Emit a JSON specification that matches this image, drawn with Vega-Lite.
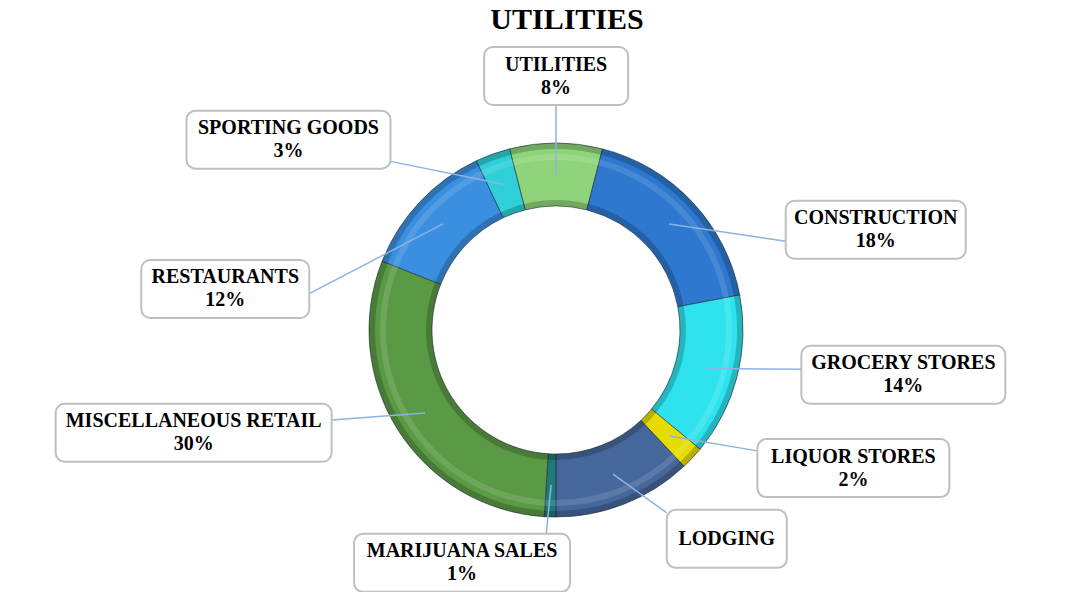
{
  "$schema": "https://vega.github.io/schema/vega-lite/v6.json",
  "width": 1056,
  "height": 524,
  "autosize": "none",
  "padding": {"left": 28, "top": 68, "right": 0, "bottom": 0},
  "background": "white",
  "config": {"view": {"stroke": null}, "font": "Liberation Serif"},
  "title": {"text": "UTILITIES", "font": "Liberation Serif", "fontSize": 30, "fontWeight": "bold", "color": "black", "anchor": "middle", "frame": "group", "baseline": "alphabetic", "offset": -13, "dx": 11},
  "data": {
    "values": [
      {"category": "UTILITIES", "value": 8, "label": ["UTILITIES", "8%"]},
      {"category": "CONSTRUCTION", "value": 18, "label": ["CONSTRUCTION", "18%"]},
      {"category": "GROCERY STORES", "value": 14, "label": ["GROCERY STORES", "14%"]},
      {"category": "LIQUOR STORES", "value": 2, "label": ["LIQUOR STORES", "2%"]},
      {"category": "LODGING", "value": 12, "label": ["LODGING"]},
      {"category": "MARIJUANA SALES", "value": 1, "label": ["MARIJUANA SALES", "1%"]},
      {"category": "MISCELLANEOUS RETAIL", "value": 30, "label": ["MISCELLANEOUS RETAIL", "30%"]},
      {"category": "RESTAURANTS", "value": 12, "label": ["RESTAURANTS", "12%"]},
      {"category": "SPORTING GOODS", "value": 3, "label": ["SPORTING GOODS", "3%"]}
    ]
  },
  "transform": [
    {"window": [{"op": "row_number", "as": "idx"}]},
    {"window": [{"op": "sum", "field": "value", "as": "cum"}], "frame": [null, 0]},
    {"joinaggregate": [{"op": "sum", "field": "value", "as": "total"}]},
    {"calculate": "2*PI*(datum.cum - datum.value/2)/datum.total - 0.2513", "as": "ang"},
    {"calculate": "cos(datum.ang) > 0 ? (sin(datum.ang) < 0 ? 0.593 : 0.349) : 0.12", "as": "spread"},
    {"calculate": "datum.ang + datum.spread*sin(2*datum.ang)", "as": "phi"},
    {"calculate": "155*sin(datum.ang)", "as": "lx"},
    {"calculate": "155*cos(datum.ang)", "as": "ly"},
    {"calculate": "250*sin(datum.phi)", "as": "ax"},
    {"calculate": "(cos(datum.phi) > 0 ? 225 : 204)*cos(datum.phi)", "as": "ay"},
    {"calculate": "12*length(datum.category) + 36", "as": "bw"},
    {"calculate": "datum.ax + datum.bw/2*clamp(sin(datum.phi)*20, -1, 1)", "as": "bcx"},
    {"calculate": "datum.ay + 29*cos(datum.phi)", "as": "bcy"},
    {"calculate": "datum.bcy + (length(datum.label) - 1)*11.5", "as": "ty"},
    {"calculate": "datum.bcx - datum.bw/2", "as": "bx1"},
    {"calculate": "datum.bcx + datum.bw/2", "as": "bx2"},
    {"calculate": "datum.bcy - 29", "as": "by1"},
    {"calculate": "datum.bcy + 29", "as": "by2"}
  ],
  "layer": [
    {
      "mark": {"type": "arc", "outerRadius": 187, "innerRadius": 124, "stroke": "#1d2f36", "strokeWidth": 1, "strokeOpacity": 0.6},
      "encoding": {
        "theta": {"field": "value", "type": "quantitative", "stack": true, "scale": {"range": [-0.2513, 6.0319]}},
        "order": {"field": "idx", "type": "quantitative"},
        "color": {
          "field": "category", "type": "nominal", "legend": null,
          "scale": {
            "domain": ["UTILITIES", "CONSTRUCTION", "GROCERY STORES", "LIQUOR STORES", "LODGING", "MARIJUANA SALES", "MISCELLANEOUS RETAIL", "RESTAURANTS", "SPORTING GOODS"],
            "range": ["#8fd47a", "#2e78cf", "#2fe3ee", "#e6dc00", "#46679c", "#1e7a7a", "#5b9a45", "#3b8fe0", "#2fcfd8"]
          }
        }
      }
    },
    {
      "mark": {"type": "arc", "outerRadius": 187, "innerRadius": 181, "fill": "black", "fillOpacity": 0.2},
      "encoding": {
        "theta": {"field": "value", "type": "quantitative", "stack": true},
        "order": {"field": "idx", "type": "quantitative"}
      }
    },
    {
      "mark": {"type": "arc", "outerRadius": 130, "innerRadius": 124, "fill": "black", "fillOpacity": 0.2},
      "encoding": {
        "theta": {"field": "value", "type": "quantitative", "stack": true},
        "order": {"field": "idx", "type": "quantitative"}
      }
    },
    {
      "mark": {"type": "arc", "outerRadius": 176, "innerRadius": 170, "fill": "white", "fillOpacity": 0.12},
      "encoding": {
        "theta": {"field": "value", "type": "quantitative", "stack": true},
        "order": {"field": "idx", "type": "quantitative"}
      }
    },
    {
      "mark": {"type": "rule", "color": "#8db3e2", "strokeWidth": 1.5},
      "encoding": {
        "x": {"field": "lx", "type": "quantitative", "axis": null, "scale": {"domain": [-528, 528], "nice": false, "zero": false}},
        "y": {"field": "ly", "type": "quantitative", "axis": null, "scale": {"domain": [-262, 262], "nice": false, "zero": false}},
        "x2": {"field": "ax"},
        "y2": {"field": "ay"}
      }
    },
    {
      "mark": {"type": "rect", "fill": "white", "stroke": "#bfbfbf", "strokeWidth": 2, "cornerRadius": 9},
      "encoding": {
        "x": {"field": "bx1", "type": "quantitative"},
        "x2": {"field": "bx2"},
        "y": {"field": "by1", "type": "quantitative"},
        "y2": {"field": "by2"}
      }
    },
    {
      "mark": {"type": "text", "font": "Liberation Serif", "fontSize": 20, "fontWeight": "bold", "color": "black", "align": "center", "baseline": "middle", "lineHeight": 23},
      "encoding": {
        "x": {"field": "bcx", "type": "quantitative"},
        "y": {"field": "ty", "type": "quantitative"},
        "text": {"field": "label", "type": "nominal"}
      }
    }
  ]
}
